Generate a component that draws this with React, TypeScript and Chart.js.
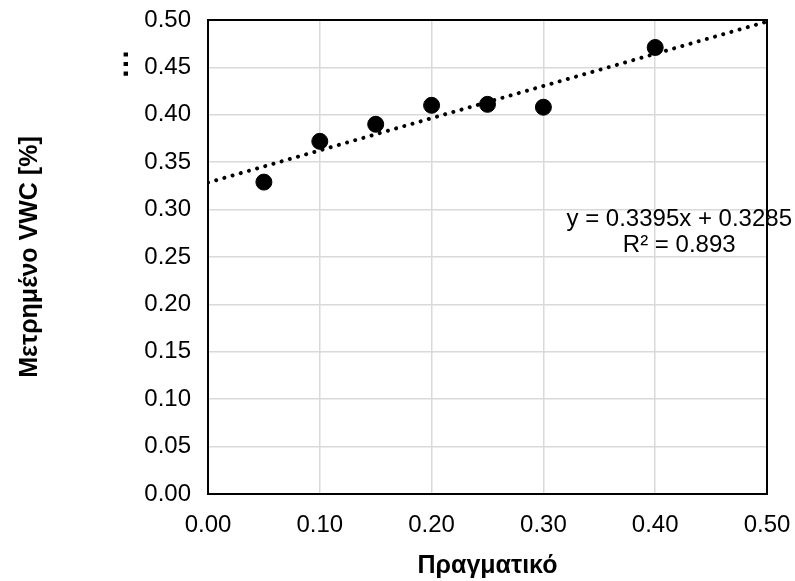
import React, { useEffect, useRef } from "react";
import { Chart, registerables } from "chart.js";

Chart.register(...registerables);

const actualValues = [0.05, 0.1, 0.15, 0.2, 0.25, 0.3, 0.4];
const measuredValues = [0.329, 0.372, 0.39, 0.41, 0.411, 0.408, 0.471];
const trendX = [0, 0.5];
const trendY = [0.3285, 0.4983];
const equationLines = ["y = 0.3395x + 0.3285", "R² = 0.893"];
const xTitle = "Πραγματικό";
const yTitle = "Μετρημένο VWC [%]";

const FONT = "'Liberation Sans', Arial, sans-serif";

const overlayPlugin = {
  id: "overlay",
  afterDatasetsDraw(chart: any) {
    const { ctx, chartArea, scales } = chart;
    ctx.save();
    ctx.fillStyle = "#000";
    ctx.font = `24px ${FONT}`;
    ctx.textAlign = "center";
    ctx.textBaseline = "middle";
    const cx = scales.x.getPixelForValue(0.4215);
    ctx.fillText(equationLines[0], cx, scales.y.getPixelForValue(0.2895));
    ctx.fillText(equationLines[1], cx, scales.y.getPixelForValue(0.2618));
    ctx.strokeStyle = "#000";
    ctx.lineWidth = 2;
    ctx.strokeRect(chartArea.left, chartArea.top, chartArea.right - chartArea.left, chartArea.bottom - chartArea.top);
    ctx.translate(128, 64);
    ctx.rotate(-Math.PI / 2);
    ctx.textBaseline = "alphabetic";
    ctx.font = `bold 30px ${FONT}`;
    ctx.fillText("…", 0, 0);
    ctx.restore();
  },
};

export default function App() {
  const ref = useRef<HTMLCanvasElement | null>(null);
  useEffect(() => {
    document.body.style.margin = "0";
    const canvas = ref.current!;
    const chart = new Chart(canvas, {
      type: "scatter",
      data: {
        datasets: [
          {
            type: "line",
            data: trendX.map((x, i) => ({ x, y: trendY[i] })),
            borderColor: "#000",
            borderWidth: 4,
            borderDash: [0.01, 8.5],
            borderCapStyle: "round",
            pointRadius: 0,
            fill: false,
          } as any,
          {
            type: "scatter",
            data: actualValues.map((x, i) => ({ x, y: measuredValues[i] })),
            backgroundColor: "#000",
            borderColor: "#000",
            pointRadius: 8,
            pointHoverRadius: 8,
          },
        ],
      },
      options: {
        responsive: false,
        animation: false,
        events: [],
        layout: { padding: { top: 20, right: 28, left: 0, bottom: 0 } },
        plugins: { legend: { display: false }, tooltip: { enabled: false } },
        scales: {
          x: {
            type: "linear",
            min: 0,
            max: 0.5,
            afterFit: (s: any) => {
              s.height = 87;
              s.paddingLeft = 0;
              s.paddingRight = 0;
            },
            ticks: {
              stepSize: 0.1,
              padding: 17,
              color: "#000",
              font: { family: FONT, size: 24 },
              callback: (v: any) => Number(v).toFixed(2),
            },
            grid: { color: "#d9d9d9", lineWidth: 1.5, drawTicks: false },
            border: { display: false },
            title: {
              display: true,
              text: xTitle,
              color: "#000",
              font: { family: FONT, size: 25, weight: "bold" },
              padding: { top: 0, bottom: 0 },
            },
          },
          y: {
            type: "linear",
            min: 0,
            max: 0.5,
            afterFit: (s: any) => {
              s.width = 208;
              s.paddingTop = 0;
              s.paddingBottom = 0;
            },
            ticks: {
              stepSize: 0.05,
              padding: 17,
              color: "#000",
              font: { family: FONT, size: 24 },
              callback: (v: any) => Number(v).toFixed(2),
            },
            grid: { color: "#d9d9d9", lineWidth: 1.5, drawTicks: false },
            border: { display: false },
            title: {
              display: true,
              text: yTitle,
              color: "#000",
              font: { family: FONT, size: 25, weight: "bold" },
              padding: { top: 15, bottom: 0 },
            },
          },
        },
      },
      plugins: [overlayPlugin],
    });
    return () => chart.destroy();
  }, []);
  return (
    <div style={{ position: "absolute", left: 0, top: 0, width: 795, height: 581, background: "#fff" }}>
      <canvas ref={ref} width={795} height={581} style={{ width: 795, height: 581 }} />
    </div>
  );
}
